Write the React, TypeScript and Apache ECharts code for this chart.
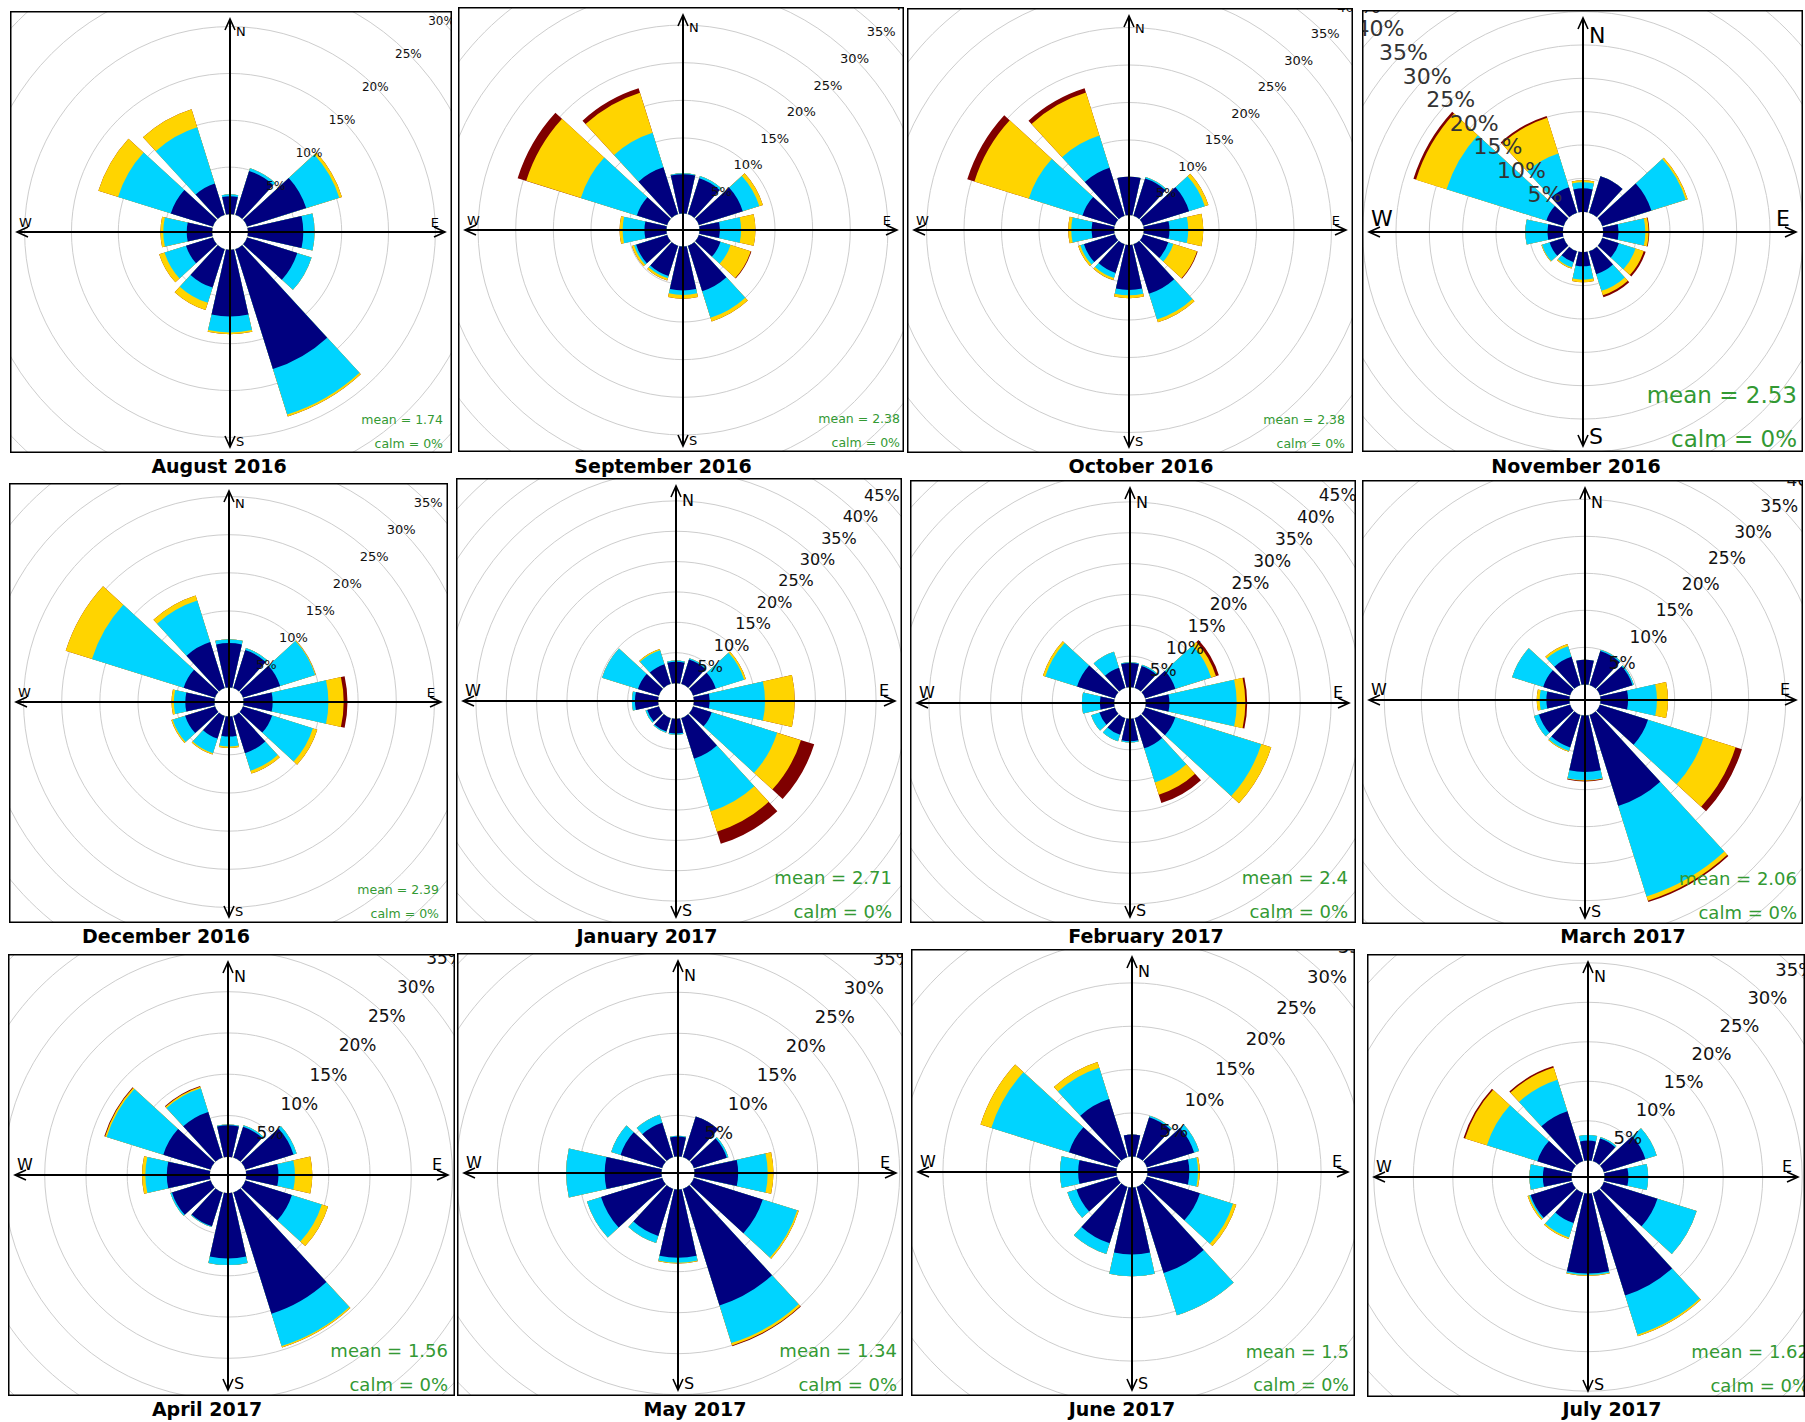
import React, { useEffect, useRef } from "react";
import * as echarts from "echarts";

// ---------------- DATA ----------------
const DIRECTIONS = ["N", "30°", "60°", "E", "120°", "150°", "S", "210°", "240°", "W", "300°", "330°"];
const SPEED_BINS = ["class 1", "class 2", "class 3", "class 4"];
const BIN_COLORS = ["#00007F", "#00D4FF", "#FFD400", "#7F0000"];
const AXIS_MAX = 60;
const AXIS_STEP = 5;

const TITLES = [
  "August 2016", "September 2016", "October 2016", "November 2016",
  "December 2016", "January 2017", "February 2017", "March 2017",
  "April 2017", "May 2017", "June 2017", "July 2017",
];
const MEANS = ["1.74", "2.38", "2.38", "2.53", "2.39", "2.71", "2.4", "2.06", "1.56", "1.34", "1.5", "1.62"];
const CALMS = ["0%", "0%", "0%", "0%", "0%", "0%", "0%", "0%", "0%", "0%", "0%", "0%"];

// cumulative frequency (%) per direction: up to class 1, 2, 3, 4
const AUG_2016 = [
  [1.9, 4.9, 6.6, 5.9, 5.6, 13.4, 7.1, 4.3, 3.0, 2.7, 4.7, 3.5],
  [2.1, 5.2, 10.3, 7.1, 7.2, 18.5, 8.8, 6.0, 5.4, 5.2, 10.6, 9.8],
  [2.1, 5.2, 10.6, 7.1, 7.2, 18.7, 9.0, 6.8, 6.0, 5.5, 12.8, 11.8],
  [2.1, 5.2, 10.6, 7.1, 7.2, 18.7, 9.0, 6.8, 6.0, 5.5, 12.8, 11.8],
];
const SEP_2016 = [
  [5.2, 5.0, 6.1, 2.7, 3.0, 6.3, 5.8, 4.2, 4.3, 2.9, 4.2, 6.5],
  [5.3, 5.3, 8.4, 5.5, 4.4, 10.0, 6.4, 4.5, 4.6, 5.8, 12.0, 11.3],
  [5.3, 5.3, 8.9, 7.4, 7.2, 10.5, 6.9, 4.8, 4.9, 6.2, 19.6, 16.9],
  [5.3, 5.3, 8.9, 7.4, 7.3, 10.5, 6.9, 4.8, 4.9, 6.2, 20.8, 17.5],
];
const OCT_2016 = [
  [5.1, 5.2, 6.4, 3.4, 3.5, 6.9, 6.0, 4.0, 4.3, 3.0, 4.5, 6.7],
  [5.1, 5.4, 8.6, 5.9, 4.2, 10.5, 6.7, 4.7, 4.8, 5.7, 12.0, 11.2],
  [5.1, 5.4, 9.1, 7.9, 7.5, 10.9, 7.1, 5.0, 5.1, 6.1, 19.6, 17.2],
  [5.1, 5.4, 9.1, 7.9, 7.6, 10.9, 7.1, 5.0, 5.1, 6.1, 20.6, 17.8],
];
const NOV_2016 = [
  [3.5, 5.7, 7.7, 2.3, 2.6, 3.6, 2.1, 1.7, 2.2, 2.3, 2.7, 4.0],
  [4.4, 5.7, 13.1, 6.3, 5.2, 6.2, 4.1, 2.5, 3.4, 5.6, 18.4, 9.3],
  [4.7, 5.7, 13.4, 6.8, 6.5, 6.9, 4.5, 2.7, 3.5, 5.6, 23.2, 14.9],
  [4.7, 5.7, 13.4, 6.9, 6.8, 7.2, 4.5, 2.7, 3.5, 5.6, 23.6, 15.2],
];
const DEC_2016 = [
  [5.8, 5.2, 5.1, 3.8, 4.0, 5.1, 2.6, 3.1, 4.1, 3.8, 4.3, 6.3],
  [6.3, 5.5, 9.9, 11.1, 9.6, 7.5, 3.9, 5.1, 5.8, 5.3, 16.9, 12.0],
  [6.3, 5.5, 10.0, 13.1, 10.2, 7.9, 4.1, 5.3, 6.0, 5.6, 20.5, 12.7],
  [6.3, 5.5, 10.0, 13.6, 10.2, 7.9, 4.1, 5.3, 6.0, 5.6, 20.5, 12.7],
];
const JAN_2017 = [
  [3.5, 4.2, 3.9, 2.6, 3.2, 7.0, 2.4, 2.3, 2.0, 3.8, 3.6, 3.4],
  [3.7, 4.4, 8.8, 11.7, 14.5, 16.1, 2.6, 2.5, 2.3, 4.3, 9.8, 5.8],
  [3.7, 4.4, 9.1, 16.6, 18.6, 19.6, 2.6, 2.5, 2.3, 4.3, 9.8, 6.0],
  [3.7, 4.4, 9.1, 16.6, 20.9, 21.7, 2.6, 2.5, 2.3, 4.3, 9.8, 6.0],
];
const FEB_2017 = [
  [3.9, 3.7, 5.1, 3.8, 5.1, 5.1, 3.6, 2.8, 2.6, 2.3, 6.4, 3.4],
  [4.0, 3.9, 11.2, 14.7, 19.7, 10.9, 3.8, 3.9, 4.0, 5.2, 11.8, 6.1],
  [4.0, 3.9, 12.0, 16.1, 21.4, 13.0, 3.8, 3.9, 4.0, 5.2, 12.2, 6.1],
  [4.0, 3.9, 12.5, 16.4, 21.4, 14.4, 3.8, 3.9, 4.0, 5.2, 12.2, 6.1],
];
const MAR_2017 = [
  [3.3, 4.8, 4.6, 3.7, 6.8, 12.9, 7.6, 4.6, 4.4, 3.1, 3.8, 4.0],
  [3.3, 5.0, 4.8, 7.6, 14.7, 25.7, 8.7, 5.1, 5.1, 4.0, 8.2, 5.5],
  [3.3, 5.0, 4.8, 9.1, 19.2, 26.3, 8.8, 5.2, 5.1, 4.4, 8.2, 5.8],
  [3.3, 5.0, 4.8, 9.1, 20.1, 26.5, 8.9, 5.2, 5.1, 4.4, 8.2, 5.8],
];
const APR_2017 = [
  [3.8, 3.9, 6.1, 3.9, 5.9, 15.4, 7.9, 4.3, 4.9, 5.2, 6.0, 5.8],
  [3.9, 4.1, 6.5, 5.9, 9.7, 19.5, 8.7, 4.4, 5.1, 7.8, 13.2, 8.8],
  [3.9, 4.1, 6.5, 8.0, 10.5, 19.7, 8.7, 4.4, 5.1, 8.2, 13.4, 9.0],
  [3.9, 4.1, 6.5, 8.0, 10.5, 19.7, 8.7, 4.4, 5.1, 8.2, 13.5, 9.1],
];
const MAY_2017 = [
  [2.4, 5.2, 4.2, 5.3, 8.8, 14.9, 8.3, 6.0, 7.8, 6.9, 5.3, 4.4],
  [2.5, 5.2, 4.4, 8.9, 13.2, 19.7, 8.9, 6.9, 9.6, 11.6, 6.5, 5.4],
  [2.5, 5.2, 4.4, 9.6, 13.4, 20.0, 9.0, 6.9, 9.6, 11.6, 6.5, 5.4],
  [2.5, 5.2, 4.4, 9.6, 13.4, 20.1, 9.0, 6.9, 9.6, 11.6, 6.5, 5.4],
];
const JUN_2017 = [
  [2.5, 4.8, 5.7, 4.8, 6.4, 10.4, 7.7, 6.8, 4.9, 4.4, 5.8, 7.0],
  [2.5, 5.0, 6.3, 5.8, 10.4, 15.5, 10.2, 8.1, 6.0, 6.5, 15.2, 10.8],
  [2.5, 5.0, 6.3, 6.0, 10.8, 15.5, 10.2, 8.1, 6.0, 6.5, 16.5, 11.5],
  [2.5, 5.0, 6.3, 6.0, 10.8, 15.5, 10.2, 8.1, 6.0, 6.5, 16.5, 11.5],
];
const JUL_2017 = [
  [2.5, 3.0, 5.5, 3.0, 7.1, 13.6, 10.1, 4.0, 5.5, 3.6, 4.6, 6.6],
  [3.2, 3.2, 7.0, 5.5, 12.3, 18.8, 10.3, 5.9, 5.7, 5.3, 11.3, 10.8],
  [3.2, 3.2, 7.0, 5.5, 12.3, 19.0, 10.4, 6.1, 5.9, 5.3, 14.2, 12.4],
  [3.2, 3.2, 7.0, 5.5, 12.3, 19.0, 10.4, 6.1, 5.9, 5.3, 14.4, 12.6],
];
const MONTHS = [
  AUG_2016, SEP_2016, OCT_2016, NOV_2016,
  DEC_2016, JAN_2017, FEB_2017, MAR_2017,
  APR_2017, MAY_2017, JUN_2017, JUL_2017,
];
const LABEL_MAX = [30, 40, 40, 45, 35, 45, 45, 40, 35, 35, 35, 35];

// ---------------- LAYOUT ----------------
type Layout = {
  x: number; y: number; w: number; h: number; cx: number; cy: number;
  off: number; k: number; labelAngle: number; labelFont: number; dirFont: number;
  meanFont: number; meanInset: number; titleX: number; titleY: number;
};
const LAYOUT: Layout[] = [
  { x: 10, y: 11, w: 442, h: 442, cx: 230, cy: 232, off: 18, k: 9.37, labelAngle: 45, labelFont: 12, dirFont: 13, meanFont: 12.5, meanInset: 9, titleX: 219, titleY: 466 },
  { x: 458, y: 7, w: 446, h: 445, cx: 683, cy: 230, off: 16.7, k: 7.53, labelAngle: 45, labelFont: 13, dirFont: 13, meanFont: 12.5, meanInset: 4, titleX: 663, titleY: 466 },
  { x: 907, y: 8, w: 446, h: 445, cx: 1129, cy: 230, off: 15, k: 7.5, labelAngle: 45, labelFont: 13, dirFont: 13, meanFont: 12.5, meanInset: 8, titleX: 1141, titleY: 466 },
  { x: 1362, y: 10, w: 441, h: 442, cx: 1583, cy: 232, off: 20.3, k: 6.67, labelAngle: 135, labelFont: 22, dirFont: 22, meanFont: 23, meanInset: 6, titleX: 1576, titleY: 466 },
  { x: 9, y: 483, w: 439, h: 440, cx: 229, cy: 702, off: 14.7, k: 7.63, labelAngle: 45, labelFont: 13, dirFont: 13, meanFont: 12.5, meanInset: 9, titleX: 166, titleY: 936 },
  { x: 456, y: 478, w: 446, h: 445, cx: 676, cy: 701, off: 18, k: 6.07, labelAngle: 45, labelFont: 16, dirFont: 16, meanFont: 18, meanInset: 10, titleX: 647, titleY: 936 },
  { x: 910, y: 480, w: 446, h: 443, cx: 1130, cy: 703, off: 16, k: 6.17, labelAngle: 45, labelFont: 17, dirFont: 16, meanFont: 18, meanInset: 8, titleX: 1146, titleY: 936 },
  { x: 1362, y: 480, w: 441, h: 444, cx: 1585, cy: 700, off: 15.7, k: 7.4, labelAngle: 45, labelFont: 17, dirFont: 16, meanFont: 18, meanInset: 6, titleX: 1623, titleY: 936 },
  { x: 8, y: 954, w: 447, h: 442, cx: 228, cy: 1175, off: 18.3, k: 8.25, labelAngle: 45, labelFont: 17, dirFont: 16, meanFont: 18, meanInset: 7, titleX: 207, titleY: 1409 },
  { x: 457, y: 953, w: 446, h: 443, cx: 678, cy: 1173, off: 16.7, k: 8.2, labelAngle: 45, labelFont: 18, dirFont: 16, meanFont: 18, meanInset: 6, titleX: 695, titleY: 1409 },
  { x: 911, y: 949, w: 444, h: 447, cx: 1132, cy: 1172, off: 15.7, k: 8.67, labelAngle: 45, labelFont: 18, dirFont: 16, meanFont: 17.5, meanInset: 6, titleX: 1122, titleY: 1409 },
  { x: 1367, y: 954, w: 438, h: 443, cx: 1588, cy: 1177, off: 16.7, k: 7.9, labelAngle: 45, labelFont: 18, dirFont: 16, meanFont: 18, meanInset: -4, titleX: 1612, titleY: 1409 },
];

const FONT = "'DejaVu Sans', Verdana, sans-serif";
const GREEN = "#339933";

function txt(x: number, y: number, text: string, size: number, align: string, valign: string, fill: string, weight = "normal", z = 30) {
  return {
    type: "text", x, y, z, silent: true,
    style: {
      text, fill, fontSize: size, fontFamily: FONT, fontWeight: weight,
      align, verticalAlign: valign, textAlign: align, textVerticalAlign: valign,
    },
  };
}

function buildOption(i: number, divH: number) {
  const L = LAYOUT[i];
  const cum = MONTHS[i];
  const cx = L.cx - L.x;
  const cy = L.cy - L.y;
  const radius = [L.off, L.off + L.k * AXIS_MAX];
  const center = [cx, cy];
  const labelMax = LABEL_MAX[i];

  const series = [3, 2, 1, 0].map((b) => ({
    type: "bar",
    name: SPEED_BINS[b],
    coordinateSystem: "polar",
    polarIndex: 0,
    data: cum[b],
    barGap: "-100%",
    barCategoryGap: "16%",
    itemStyle: { color: BIN_COLORS[b] },
    silent: true,
    z: 2,
  }));

  const top = 8, bottom = L.h - 6, left = 7, right = L.w - 7;
  const aw = 11, ah = 5;
  const ln = { stroke: "#000", lineWidth: 2 };
  const hd = { stroke: "#000", lineWidth: 1.6, fill: null };
  const f = L.dirFont;
  const mf = L.meanFont;
  const calmY = L.h - (6 + 0.3 * mf);
  const meanY = calmY - 1.9 * mf;

  const elements: any[] = [
    { type: "line", z: 20, silent: true, shape: { x1: left, y1: cy, x2: right, y2: cy }, style: ln },
    { type: "line", z: 20, silent: true, shape: { x1: cx, y1: top, x2: cx, y2: bottom }, style: ln },
    { type: "polyline", z: 20, silent: true, shape: { points: [[cx - ah, top + aw], [cx, top], [cx + ah, top + aw]] }, style: hd },
    { type: "polyline", z: 20, silent: true, shape: { points: [[cx - ah, bottom - aw], [cx, bottom], [cx + ah, bottom - aw]] }, style: hd },
    { type: "polyline", z: 20, silent: true, shape: { points: [[left + aw, cy - ah], [left, cy], [left + aw, cy + ah]] }, style: hd },
    { type: "polyline", z: 20, silent: true, shape: { points: [[right - aw, cy - ah], [right, cy], [right - aw, cy + ah]] }, style: hd },
    txt(cx + 6, 14, "N", f, "left", "top", "#000"),
    txt(cx + 6, L.h - 5, "S", f, "left", "bottom", "#000"),
    txt(L.w - 13, cy - 3, "E", f, "right", "bottom", "#000"),
    txt(9, cy - 3, "W", f, "left", "bottom", "#000"),
    txt(L.w - L.meanInset, meanY, "mean = " + MEANS[i], mf, "right", "middle", GREEN),
    txt(L.w - L.meanInset, calmY, "calm = " + CALMS[i], mf, "right", "middle", GREEN),
    { type: "rect", z: 49, silent: true, shape: { x: 0, y: L.h, width: L.w, height: divH - L.h }, style: { fill: "#fff" } },
    { type: "rect", z: 50, silent: true, shape: { x: 0.75, y: 0.75, width: L.w - 1.5, height: L.h - 1.5 }, style: { fill: null, stroke: "#000", lineWidth: 1.5 } },
    txt(L.titleX - L.x, L.titleY - L.y, TITLES[i], 19, "center", "middle", "#000", "bold", 51),
  ];

  return {
    animation: false,
    textStyle: { fontFamily: FONT },
    polar: [
      { center, radius },
      { center, radius },
    ],
    angleAxis: [
      {
        polarIndex: 0, type: "category", data: DIRECTIONS, startAngle: 105, clockwise: true,
        axisLine: { show: false }, axisTick: { show: false }, axisLabel: { show: false }, splitLine: { show: false },
      },
      {
        polarIndex: 1, type: "category", data: DIRECTIONS, startAngle: L.labelAngle, clockwise: true, show: false,
        axisLine: { show: false }, axisTick: { show: false }, axisLabel: { show: false }, splitLine: { show: false },
      },
    ],
    radiusAxis: [
      {
        polarIndex: 0, type: "value", min: 0, max: AXIS_MAX, interval: AXIS_STEP,
        axisLine: { show: false }, axisTick: { show: false }, axisLabel: { show: false },
        splitLine: { show: true, lineStyle: { color: "#cdcdcd", width: 1 } },
        z: 0,
      },
      {
        polarIndex: 1, type: "value", min: 0, max: AXIS_MAX, interval: AXIS_STEP,
        axisLine: { show: false }, axisTick: { show: false }, splitLine: { show: false },
        axisLabel: {
          show: true, margin: 0, align: "center", verticalAlign: "middle",
          fontSize: L.labelFont, fontFamily: FONT, color: i === 3 ? "#333" : "#111",
          formatter: (v: number) => (v > 0 && v <= labelMax ? v + "%" : ""),
        },
        z: 10,
      },
    ],
    series,
    graphic: { elements },
  };
}

function RosePanel({ index }: { index: number }) {
  const ref = useRef<HTMLDivElement>(null);
  const L = LAYOUT[index];
  const divH = L.titleY + 14 - L.y;
  useEffect(() => {
    if (!ref.current) return;
    const chart = echarts.init(ref.current, null, { renderer: "svg" });
    chart.setOption(buildOption(index, divH) as any);
    return () => chart.dispose();
  }, [index, divH]);
  return (
    <div
      ref={ref}
      style={{ position: "absolute", left: L.x, top: L.y, width: L.w, height: divH }}
    />
  );
}

export default function App() {
  return (
    <div style={{ position: "absolute", left: 0, top: 0, width: 1805, height: 1422, background: "#fff", overflow: "hidden" }}>
      {LAYOUT.map((_, i) => (
        <RosePanel key={i} index={i} />
      ))}
    </div>
  );
}
